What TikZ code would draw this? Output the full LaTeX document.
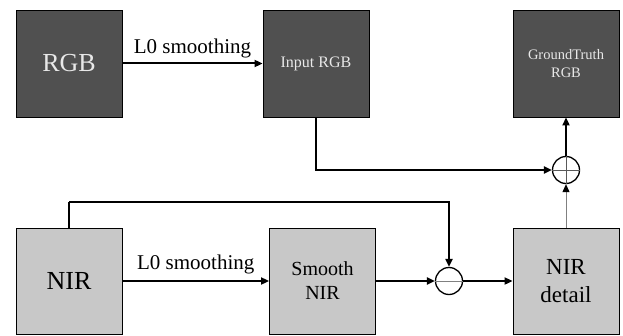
\documentclass[tikz,border=0pt]{standalone}
\usepackage{fontspec}
\setmainfont{Liberation Serif}
\newfontfamily\timesfont{Liberation Serif}
\usetikzlibrary{arrows.meta}

\definecolor{darkbox}{HTML}{505050}
\definecolor{lightbox}{HTML}{C8C8C8}
\definecolor{lighttext}{HTML}{E8E8E8}

\newcommand{\fsz}[1]{\timesfont\fontsize{#1}{1.2\dimexpr#1pt\relax}\selectfont}

\tikzset{
	imgdark/.style={draw=black, line width=0.9pt, fill=darkbox, text=lighttext, minimum width=106pt, minimum height=107pt, inner sep=0pt, align=center},
	imglight/.style={draw=black, line width=0.9pt, fill=lightbox, text=black, minimum width=106pt, minimum height=106pt, inner sep=0pt, align=center},
	opcircle/.style={circle, draw=black, line width=1.3pt, minimum size=27pt, inner sep=0pt},
	flow/.style={line width=2pt, -{Triangle[length=8pt,width=7pt]}},
}

\begin{document}
\begin{tikzpicture}[x=1pt, y=1pt]
	\useasboundingbox (0, 0) rectangle (623, 335);
	
	%%%%% top row %%%%%
	\node[imgdark, font=\fsz{26}] (rgb) at (69, 271.5) {RGB};
	\node[imgdark, font=\fsz{16}] (inrgb) at (316, 271.5) {Input RGB};
	\node[imgdark, font=\fsz{14.5}] (gtrgb) at (566, 271.5) {GroundTruth\\RGB};
	
	%%%%% bottom row %%%%%
	\node[imglight, font=\fsz{26}] (nir) at (69, 54) {NIR};
	\node[imglight, font=\fsz{20}] (smooth) at (322.5, 54) {Smooth\\NIR};
	\node[imglight, font=\fsz{23}] (detail) at (566, 54) {NIR\\detail};
	
	%%%%% operators %%%%%
	\node[opcircle] (minus) at (449, 54) {};
	\draw[gray, line width=0.8pt] (minus.west) -- (minus.east);
	\node[opcircle] (plus) at (566, 165) {};
	\draw[gray!70!black, line width=0.8pt] (plus.west) -- (plus.east) (plus.north) -- (plus.south);
	
	%%%%% connectors %%%%%
	\draw[flow] (rgb) -- node[above=1pt, font=\fsz{21}] {L0 smoothing} (inrgb);
	\draw[flow] (nir) -- node[above=3pt, font=\fsz{21}] {L0 smoothing} (smooth);
	
	\coordinate (niraux) at (69, 133);
	\draw[line width=2pt] (nir.north -| niraux) -- (niraux);
	\draw[flow] (niraux) -| (minus.north);
	
	\draw[flow] (smooth) -- (minus);
	\draw[flow] (minus) -- (detail);
	
	\draw[flow] (inrgb.south) |- (plus.west);
	\draw[gray, line width=1pt, -{Triangle[length=8pt,width=7pt,color=black]}] (detail.north) -- (plus.south);
	\draw[flow] (plus.north) -- (gtrgb.south);
\end{tikzpicture}
\end{document}
